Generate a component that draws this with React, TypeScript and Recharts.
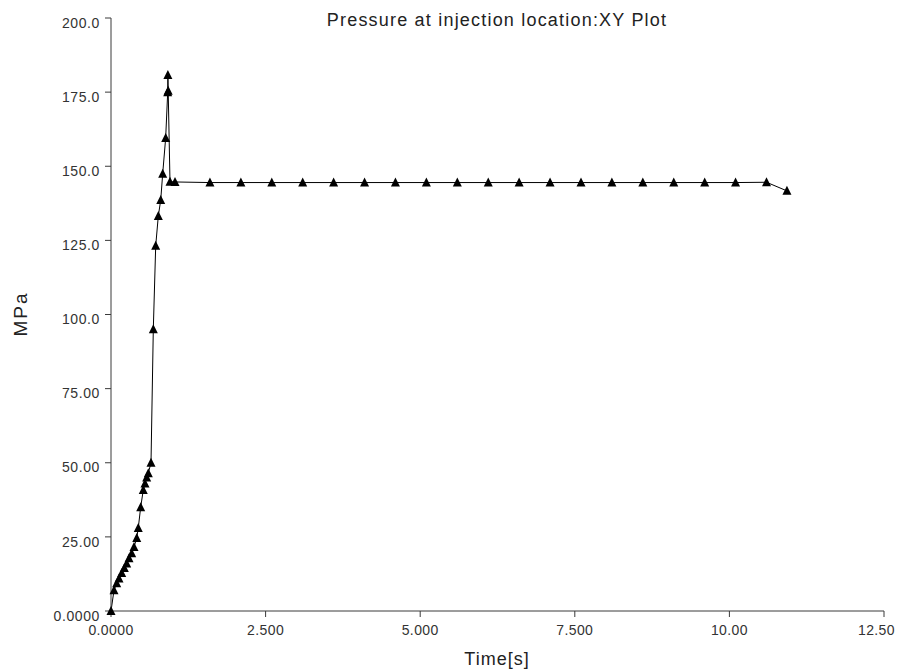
import { LineChart, Line, XAxis, YAxis } from "recharts";

const times = [
  0, 0.049, 0.092, 0.129, 0.173, 0.215, 0.254, 0.291, 0.335, 0.372, 0.416, 0.441,
  0.48, 0.522, 0.55, 0.577, 0.603, 0.647, 0.684, 0.723, 0.765, 0.804, 0.836,
  0.884, 0.917, 0.92, 0.925, 0.954, 1.035, 1.6, 2.1, 2.6, 3.1, 3.6, 4.1, 4.6,
  5.1, 5.6, 6.1, 6.6, 7.1, 7.6, 8.1, 8.6, 9.1, 9.6, 10.1, 10.6, 10.93,
];
const pressures = [
  0, 7, 9.4, 11, 12.8, 14.5, 16, 17.8, 19.5, 21.6, 24.6, 28, 35, 40.8, 43, 45,
  46.5, 50, 95, 123.2, 133.2, 138.6, 147.5, 159.5, 175, 180.8, 175.5, 144.8,
  144.7, 144.5, 144.5, 144.5, 144.5, 144.5, 144.5, 144.5, 144.5, 144.5, 144.5,
  144.5, 144.5, 144.5, 144.5, 144.5, 144.5, 144.5, 144.5, 144.6, 141.7,
];

const xTicks = [0, 2.5, 5, 7.5, 10, 12.5];
const xTickLabels = ["0.0000", "2.500", "5.000", "7.500", "10.00", "12.50"];
const yTicks = [0, 25, 50, 75, 100, 125, 150, 175, 200];
const yTickLabels = ["0.0000", "25.00", "50.00", "75.00", "100.0", "125.0", "150.0", "175.0", "200.0"];

const data = times.map((t, i) => ({ t, p: pressures[i] }));

const FONT = '"Liberation Sans", Arial, sans-serif';
const AXIS = "#3a3a3a";

const Triangle = (props: any) => {
  const { cx, cy } = props;
  if (cx == null || cy == null) return null;
  return (
    <path
      d={`M${cx},${cy - 5} L${cx - 4.5},${cy + 4} L${cx + 4.5},${cy + 4} Z`}
      fill="#000"
      stroke="none"
    />
  );
};

const YTick = (props: any) => {
  const { x, y, payload } = props;
  const idx = yTicks.indexOf(payload.value);
  return (
    <text
      x={x}
      y={y}
      dy={6}
      textAnchor="end"
      dominantBaseline="middle"
      fill="#333"
      fontSize={14}
      fontFamily={FONT}
      letterSpacing={0.6}
    >
      {yTickLabels[idx]}
    </text>
  );
};

const XTick = (props: any) => {
  const { x, y, payload } = props;
  const idx = xTicks.indexOf(payload.value);
  // the last label is pulled in so it stays inside the frame
  const last = idx === xTicks.length - 1;
  return (
    <text
      x={last ? x + 11 : x}
      y={y}
      dy={8}
      textAnchor={last ? "end" : "middle"}
      dominantBaseline="middle"
      fill="#333"
      fontSize={14}
      fontFamily={FONT}
      letterSpacing={0.4}
    >
      {xTickLabels[idx]}
    </text>
  );
};

export default function App() {
  return (
    <div
      style={{
        position: "absolute",
        left: 0,
        top: 0,
        width: 898,
        height: 671,
        background: "#fff",
        fontFamily: FONT,
      }}
    >
      <div
        style={{
          position: "absolute",
          left: 0,
          width: 994,
          top: 10,
          textAlign: "center",
          fontSize: 18,
          letterSpacing: 1.2,
          color: "#222",
          whiteSpace: "nowrap",
        }}
      >
        Pressure at injection location:XY Plot
      </div>
      <div
        style={{
          position: "absolute",
          left: 0,
          width: 994,
          top: 649,
          textAlign: "center",
          fontSize: 18,
          letterSpacing: 1,
          color: "#222",
        }}
      >
        Time[s]
      </div>
      <div
        style={{
          position: "absolute",
          left: 21,
          top: 314,
          transform: "translate(-50%, -50%) rotate(-90deg)",
          fontSize: 19,
          letterSpacing: 2,
          color: "#222",
          whiteSpace: "nowrap",
        }}
      >
        MPa
      </div>
      <LineChart
        width={898}
        height={671}
        data={data}
        margin={{ top: 18, right: 14, bottom: 30, left: 0 }}
      >
        <XAxis
          dataKey="t"
          type="number"
          domain={[0, 12.5]}
          ticks={xTicks}
          interval={0}
          height={30}
          tick={<XTick />}
          tickSize={6}
          tickMargin={6}
          stroke={AXIS}
          axisLine={{ stroke: AXIS, strokeWidth: 1 }}
          tickLine={{ stroke: AXIS }}
        />
        <YAxis
          dataKey="p"
          type="number"
          domain={[0, 200]}
          ticks={yTicks}
          interval={0}
          width={111}
          tick={<YTick />}
          tickSize={6}
          tickMargin={5}
          stroke={AXIS}
          axisLine={{ stroke: AXIS, strokeWidth: 1 }}
          tickLine={{ stroke: AXIS }}
        />
        <Line
          type="linear"
          dataKey="p"
          stroke="#000"
          strokeWidth={1}
          dot={<Triangle />}
          activeDot={false}
          isAnimationActive={false}
        />
      </LineChart>
    </div>
  );
}
